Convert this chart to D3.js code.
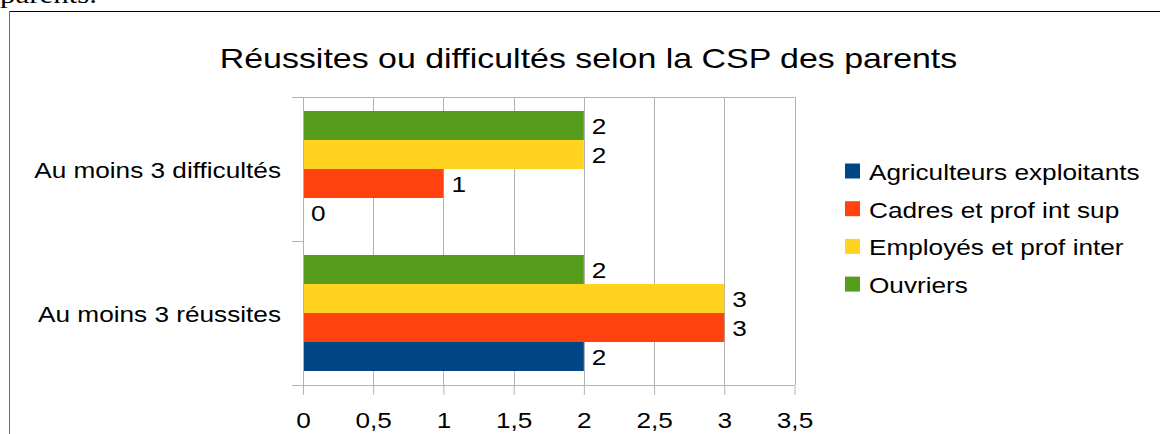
<!DOCTYPE html>
<html>
<head>
<meta charset="utf-8">
<script src="https://cdn.jsdelivr.net/npm/d3@7"></script>
<style>
  html, body { margin: 0; padding: 0; background: #fff; }
  svg { display: block; }
  text { font-family: "Liberation Sans", Arial, sans-serif; fill: #000; }
</style>
</head>
<body>
<svg id="chart" width="1160" height="434"></svg>
<script>
// Categories (top to bottom on the vertical axis)
const categories = ["Au moins 3 difficultés", "Au moins 3 réussites"];
// Series, in legend order
const seriesNames = ["Agriculteurs exploitants", "Cadres et prof int sup", "Employés et prof inter", "Ouvriers"];
const seriesColors = ["#004586", "#ff420e", "#ffd320", "#579d1c"];
// Values per series, one per category
const agriculteurs = [0, 2];
const cadres = [1, 3];
const employes = [2, 3];
const ouvriers = [2, 2];
const seriesValues = [agriculteurs, cadres, employes, ouvriers];
const xTicks = [0, 0.5, 1, 1.5, 2, 2.5, 3, 3.5];
const title = "Réussites ou difficultés selon la CSP des parents";

const svg = d3.select("#chart");

// Text is rendered slightly widened, anchored on its x position
const SX = 1.19;
function widen(sel) {
  sel.each(function() {
    const t = d3.select(this);
    const x = +t.attr("x") || 0;
    t.attr("transform", `translate(${x * (1 - SX)},0) scale(${SX},1)`);
  });
  return sel;
}

// Document text just above the chart frame
svg.append("text")
  .attr("x", 0).attr("y", 3)
  .style("font-family", "'Liberation Serif', 'Times New Roman', serif")
  .style("font-size", "26px")
  .text("parents.")
  .call(widen);

// Chart frame
svg.append("line").attr("x1", 9).attr("x2", 1160).attr("y1", 11.5).attr("y2", 11.5)
  .attr("stroke", "#000").attr("stroke-width", 1.2);
svg.append("line").attr("x1", 9.5).attr("x2", 9.5).attr("y1", 11).attr("y2", 434)
  .attr("stroke", "#6e6e6e").attr("stroke-width", 1);

const plot = { left: 303, right: 794.5, top: 97, bottom: 385 };

const x = d3.scaleLinear().domain([0, 3.5]).range([plot.left, plot.right]);
const y = d3.scaleBand().domain(categories).range([plot.top, plot.bottom]).paddingInner(0).paddingOuter(0);
// Within a category, the last series sits on top
const inner = d3.scaleBand()
  .domain(d3.range(seriesNames.length).reverse())
  .range([0, y.bandwidth()])
  .paddingOuter(0.483)
  .paddingInner(0);

// Gridlines
const grid = svg.append("g");
grid.selectAll("line").data(xTicks).join("line")
  .attr("x1", d => Math.round(x(d)) + 0.5).attr("x2", d => Math.round(x(d)) + 0.5)
  .attr("y1", plot.top).attr("y2", plot.bottom)
  .attr("stroke", "#b3b3b3").attr("stroke-width", 1);
grid.append("line")
  .attr("x1", plot.left).attr("x2", plot.right)
  .attr("y1", plot.top + 0.5).attr("y2", plot.top + 0.5)
  .attr("stroke", "#b3b3b3");

// Bars with value labels
const groups = svg.append("g").selectAll("g").data(categories).join("g")
  .attr("transform", c => `translate(0,${y(c)})`);

groups.each(function(c, ci) {
  const g = d3.select(this);
  seriesValues.forEach((vals, si) => {
    const v = vals[ci];
    g.append("rect")
      .attr("x", x(0))
      .attr("y", inner(si))
      .attr("width", x(v) - x(0))
      .attr("height", inner.bandwidth())
      .attr("fill", seriesColors[si]);
    g.append("text")
      .attr("x", x(v) + 8)
      .attr("y", inner(si) + inner.bandwidth() / 2)
      .attr("dy", "0.4em")
      .style("font-size", "22px")
      .text(d3.format("d")(v))
      .call(widen);
  });
});

// Bottom axis
const xAxis = d3.axisBottom(x).tickValues(xTicks).tickSize(10).tickPadding(17)
  .tickFormat(d => String(d).replace(".", ","));
const gx = svg.append("g").attr("transform", `translate(0,${plot.bottom})`).call(xAxis);
gx.select(".domain").attr("stroke", "#b3b3b3").attr("d", `M${plot.left - 11},0.5H${plot.right}`);
gx.selectAll(".tick line").attr("stroke", "#b3b3b3");
gx.selectAll(".tick text")
  .style("font-size", "22px")
  .style("font-family", "'Liberation Sans', Arial, sans-serif")
  .attr("fill", "#000")
  .attr("transform", `scale(${SX},1)`);

// Left axis
const yBoundaries = [plot.top, y(categories[1]), plot.bottom];
const gy = svg.append("g");
gy.append("line").attr("x1", plot.left + 0.5).attr("x2", plot.left + 0.5)
  .attr("y1", plot.top).attr("y2", plot.bottom).attr("stroke", "#b3b3b3");
gy.selectAll(".tk").data(yBoundaries).join("line").attr("class", "tk")
  .attr("x1", plot.left - 11).attr("x2", plot.left)
  .attr("y1", d => Math.round(d) + 0.5).attr("y2", d => Math.round(d) + 0.5)
  .attr("stroke", "#b3b3b3");
gy.selectAll("text").data(categories).join("text")
  .attr("x", 281)
  .attr("y", c => y(c) + y.bandwidth() / 2)
  .attr("dy", "0.4em")
  .attr("text-anchor", "end")
  .style("font-size", "22px")
  .text(c => c)
  .call(widen);

// Title
svg.append("text")
  .attr("x", 588.5).attr("y", 68)
  .attr("text-anchor", "middle")
  .style("font-size", "28.5px")
  .text(title)
  .call(widen);

// Legend
const legend = svg.append("g").attr("transform", "translate(845,171)");
const items = legend.selectAll("g").data(seriesNames).join("g")
  .attr("transform", (d, i) => `translate(0,${i * 37.7})`);
items.append("rect").attr("x", 0).attr("y", -7.5).attr("width", 15).attr("height", 15)
  .attr("fill", (d, i) => seriesColors[i]);
items.append("text").attr("x", 24).attr("y", 0).attr("dy", "0.4em")
  .style("font-size", "22px").text(d => d)
  .call(widen);
</script>
</body>
</html>
